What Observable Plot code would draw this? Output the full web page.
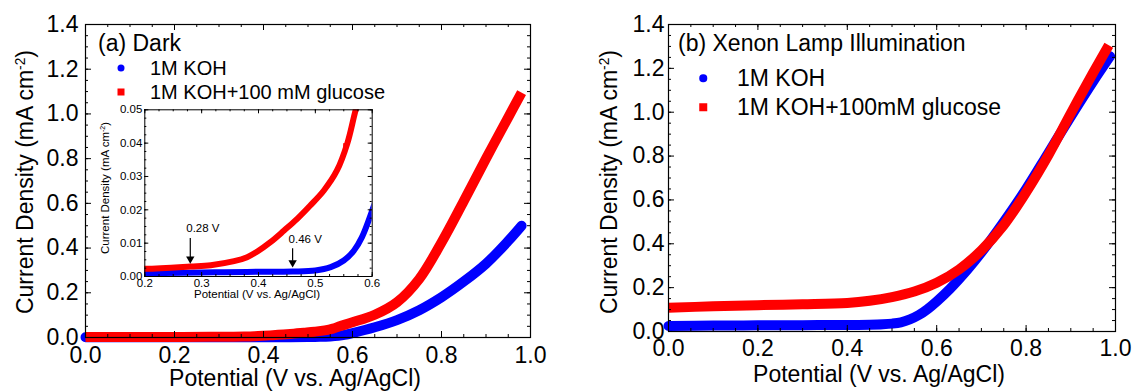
<!DOCTYPE html>
<html><head><meta charset="utf-8">
<script src="https://cdn.jsdelivr.net/npm/d3@7"></script>
<script src="https://cdn.jsdelivr.net/npm/@observablehq/plot@0.6"></script>
<style>
body{margin:0;background:#fff;font-family:"Liberation Sans",Arial,sans-serif;}
#wrap{position:relative;width:1132px;height:392px;overflow:hidden;background:#fff}
.t{position:absolute;white-space:nowrap;line-height:1;color:#000}
.c{transform:translate(-50%,-50%);line-height:0.85}
.l{transform:translateY(-50%)}
.r{transform:translate(-50%,-50%) rotate(-90deg)}
.sup{font-size:0.6em;position:relative;top:-0.6em}
.mk{position:absolute;transform:translate(-50%,-50%)}
</style></head><body><div id="wrap"></div><script>
// ---------- data (potential V vs Ag/AgCl, current density mA cm^-2) ----------
// (a) Dark
const darkKOH_V = [0, 0.1, 0.2, 0.3, 0.34, 0.4, 0.46, 0.5, 0.527, 0.55, 0.568, 0.582, 0.6, 0.65, 0.7, 0.75, 0.8, 0.85, 0.9, 0.95, 0.98];
const darkKOH_J = [0.0008, 0.0009, 0.001, 0.0012, 0.0013, 0.0014, 0.0015, 0.0018, 0.0028, 0.0048, 0.0078, 0.0118, 0.0198, 0.046, 0.078, 0.122, 0.18, 0.25, 0.33, 0.432, 0.50];
const darkGlu_V = [0, 0.1, 0.2, 0.28, 0.316, 0.357, 0.38, 0.398, 0.421, 0.445, 0.468, 0.491, 0.515, 0.538, 0.556, 0.571, 0.6, 0.65, 0.7, 0.75, 0.8, 0.85, 0.9, 0.95, 0.98];
const darkGlu_J = [0.0021, 0.0022, 0.0023, 0.003, 0.0034, 0.0046, 0.0058, 0.0075, 0.0103, 0.0138, 0.0173, 0.0213, 0.0258, 0.0318, 0.0398, 0.05, 0.068, 0.102, 0.158, 0.262, 0.425, 0.61, 0.80, 0.985, 1.095];
const darkGluStray_V = [0.553];
const darkGluStray_J = [0.0393];
// (b) Xenon lamp illumination
const lightKOH_V = [0, 0.1, 0.2, 0.3, 0.4, 0.45, 0.48, 0.5, 0.52, 0.54, 0.56, 0.58, 0.6, 0.63, 0.67, 0.7, 0.75, 0.8, 0.85, 0.9, 0.95, 0.988];
const lightKOH_J = [0.025, 0.027, 0.028, 0.029, 0.03, 0.031, 0.033, 0.036, 0.042, 0.055, 0.075, 0.103, 0.137, 0.195, 0.285, 0.36, 0.5, 0.65, 0.815, 0.98, 1.14, 1.255];
const lightGlu_V = [0, 0.1, 0.2, 0.3, 0.4, 0.45, 0.5, 0.55, 0.6, 0.65, 0.7, 0.75, 0.8, 0.85, 0.9, 0.95, 0.985];
const lightGlu_J = [0.108, 0.115, 0.12, 0.124, 0.13, 0.14, 0.157, 0.182, 0.222, 0.283, 0.37, 0.485, 0.635, 0.805, 0.995, 1.18, 1.305];
// onset annotations in the inset
const onsetV = [0.28, 0.46];
const onsetTip = [0.0039, 0.0028];
const onsetTop = [0.0114, 0.0083];
const onsetLabel = ["0.28 V", "0.46 V"];
// ticks
const mainXTicks = [0, 0.2, 0.4, 0.6, 0.8, 1.0];
const mainYTicks = [0, 0.2, 0.4, 0.6, 0.8, 1.0, 1.2, 1.4];
const insetXTicks = [0.2, 0.3, 0.4, 0.5, 0.6];
const insetYTicks = [0, 0.01, 0.02, 0.03, 0.04, 0.05];
// text
const xTitle = "Potential (V vs. Ag/AgCl)";
const yTitle = "Current Density (mA cm";
const seriesNames = {a: ["1M KOH", "1M KOH+100 mM glucose"], b: ["1M KOH", "1M KOH+100mM glucose"]};
const BLUE = "#0000ff", RED = "#ff0000";

const rows = (V, J) => V.map((v, i) => ({v, j: J[i]}));
const FONT = '"Liberation Sans", Arial, sans-serif';
const wrap = document.getElementById("wrap");

function frameTicks(fw, fh, xMaj, xMin, yMaj, yMin, major, minor) {
  const o = {stroke: "#000", strokeWidth: 1};
  return [
    Plot.tickX(xMaj, {x: Plot.identity, insetTop: fh - major, ...o}),
    Plot.tickX(xMaj, {x: Plot.identity, insetBottom: fh - major, ...o}),
    Plot.tickX(xMin, {x: Plot.identity, insetTop: fh - minor, ...o}),
    Plot.tickX(xMin, {x: Plot.identity, insetBottom: fh - minor, ...o}),
    Plot.tickY(yMaj, {y: Plot.identity, insetRight: fw - major, ...o}),
    Plot.tickY(yMaj, {y: Plot.identity, insetLeft: fw - major, ...o}),
    Plot.tickY(yMin, {y: Plot.identity, insetRight: fw - minor, ...o}),
    Plot.tickY(yMin, {y: Plot.identity, insetLeft: fw - minor, ...o})
  ];
}

function place(svg, left, top) {
  svg.style.position = "absolute";
  svg.style.left = left + "px";
  svg.style.top = top + "px";
  wrap.appendChild(svg);
}
function text(html, x, y, size, cls) {
  const d = document.createElement("div");
  d.className = "t " + cls;
  d.style.left = x + "px"; d.style.top = y + "px"; d.style.fontSize = size + "px";
  d.innerHTML = html;
  wrap.appendChild(d);
}
function marker(x, y, size, color, round) {
  const d = document.createElement("div");
  d.className = "mk";
  d.style.cssText += `left:${x}px;top:${y}px;width:${size}px;height:${size}px;background:${color};border-radius:${round ? "50%" : "0"}`;
  wrap.appendChild(d);
}
const CURVE = "catmull-rom";

// ---------- panel (a) ----------
{
  const W = 566, H = 392, ml = 85, mr = 36, mt = 24, mb = 55;
  const fw = W - ml - mr, fh = H - mt - mb;
  const svg = Plot.plot({
    width: W, height: H, marginLeft: ml, marginRight: mr, marginTop: mt, marginBottom: mb,
    style: {fontFamily: FONT, fontSize: "23px", color: "#000", background: "white"},
    x: {domain: [0, 1], ticks: mainXTicks, tickSize: 0, tickPadding: 9, tickFormat: d => d.toFixed(1), label: null},
    y: {domain: [0, 1.4], ticks: mainYTicks, tickSize: 0, tickPadding: 7, tickFormat: d => d.toFixed(1), label: null},
    marks: [
      Plot.line(rows(darkKOH_V, darkKOH_J), {x: "v", y: "j", stroke: BLUE, strokeWidth: 10, curve: CURVE, strokeLinecap: "round"}),
      Plot.line(rows(darkGlu_V, darkGlu_J), {x: "v", y: "j", stroke: RED, strokeWidth: 10, curve: CURVE, strokeLinecap: "butt"}),
      ...frameTicks(fw, fh, mainXTicks, d3.range(0, 1.001, 0.05), mainYTicks, d3.range(0, 1.401, 0.05), 6, 3),
      Plot.frame({stroke: "#000", strokeWidth: 1.2})
    ]
  });
  place(svg, 0, 0);
}

// ---------- inset of panel (a) ----------
{
  const L = 90, T = 100, W = 300, H = 210, ml = 54.3, mr = 18.3, mt = 9.3, mb = 34;
  const fw = W - ml - mr, fh = H - mt - mb;
  const arrows = onsetV.map((v, i) => ({v, tip: onsetTip[i], top: onsetTop[i], label: onsetLabel[i]}));
  const svg = Plot.plot({
    width: W, height: H, marginLeft: ml, marginRight: mr, marginTop: mt, marginBottom: mb,
    style: {fontFamily: FONT, fontSize: "11.5px", color: "#000", background: "transparent", overflow: "visible"},
    x: {domain: [0.2, 0.6], ticks: insetXTicks, tickSize: 0, tickPadding: 2.5, tickFormat: d => d.toFixed(1), label: null},
    y: {domain: [0, 0.05], ticks: insetYTicks, tickSize: 0, tickPadding: 2.5, tickFormat: d => d.toFixed(2), label: null},
    marks: [
      Plot.frame({fill: "white"}),
      Plot.line(rows(darkKOH_V, darkKOH_J), {x: "v", y: "j", stroke: BLUE, strokeWidth: 6, curve: CURVE, clip: true}),
      Plot.line(rows(darkGlu_V, darkGlu_J), {x: "v", y: "j", stroke: RED, strokeWidth: 6, curve: CURVE, clip: true}),
      Plot.dot(rows(darkGluStray_V, darkGluStray_J), {x: "v", y: "j", symbol: "square", r: 2.6, fill: RED}),
      Plot.ruleX(arrows, {x: "v", y1: "top", y2: "tip", stroke: "#000", strokeWidth: 1.2, insetBottom: 6}),
      Plot.dot(arrows, {x: "v", y: "tip", symbol: "triangle", r: 3.1, rotate: 180, fill: "#000", dy: -4.5}),
      Plot.text(arrows, {x: "v", y: "top", text: "label", textAnchor: "start", dx: -4, dy: -10, fontSize: 11.5, fill: "#000"}),
      ...frameTicks(fw, fh, insetXTicks, d3.range(0.2, 0.6001, 0.025), insetYTicks, d3.range(0, 0.05001, 0.0025), 4, 2),
      Plot.frame({stroke: "#000", strokeWidth: 1})
    ]
  });
  place(svg, L, T);
}

// ---------- panel (b) ----------
{
  const W = 566, H = 392, ml = 102, mr = 17, mt = 24, mb = 61;
  const fw = W - ml - mr, fh = H - mt - mb;
  const svg = Plot.plot({
    width: W, height: H, marginLeft: ml, marginRight: mr, marginTop: mt, marginBottom: mb,
    style: {fontFamily: FONT, fontSize: "23px", color: "#000", background: "white"},
    x: {domain: [0, 1], ticks: mainXTicks, tickSize: 0, tickPadding: 8, tickFormat: d => d.toFixed(1), label: null},
    y: {domain: [0, 1.4], ticks: mainYTicks, tickSize: 0, tickPadding: 4, tickFormat: d => d.toFixed(1), label: null},
    marks: [
      Plot.line(rows(lightKOH_V, lightKOH_J), {x: "v", y: "j", stroke: BLUE, strokeWidth: 10, curve: CURVE, strokeLinecap: "round"}),
      Plot.line(rows(lightGlu_V, lightGlu_J), {x: "v", y: "j", stroke: RED, strokeWidth: 10, curve: CURVE, strokeLinecap: "butt"}),
      ...frameTicks(fw, fh, mainXTicks, d3.range(0, 1.001, 0.05), mainYTicks, d3.range(0, 1.401, 0.05), 6, 3),
      Plot.frame({stroke: "#000", strokeWidth: 1.2})
    ]
  });
  place(svg, 566, 0);
}

// ---------- titles, axis titles, legends ----------
const yT = yTitle + '<span class="sup">-2</span>)';
text(xTitle, 295, 379, 23, "c");
text(yT, 25, 182, 23, "r");
text(xTitle, 879, 375, 23, "c");
text(yT, 609, 182, 23, "r");
text(xTitle, 257, 295, 11.5, "c");
text(yT, 106, 188, 11.5, "r");

text("(a) Dark", 98, 43, 23, "l");
marker(121, 68, 7, BLUE, true);
text(seriesNames.a[0], 150, 68, 20, "l");
marker(121, 92, 7, RED, false);
text(seriesNames.a[1], 150, 92, 20, "l");

text("(b) Xenon Lamp Illumination", 678, 43, 23, "l");
marker(703, 78, 7.5, BLUE, true);
text(seriesNames.b[0], 737, 78, 23, "l");
marker(703, 107, 7.5, RED, false);
text(seriesNames.b[1], 737, 107, 23, "l");
</script></body></html>
